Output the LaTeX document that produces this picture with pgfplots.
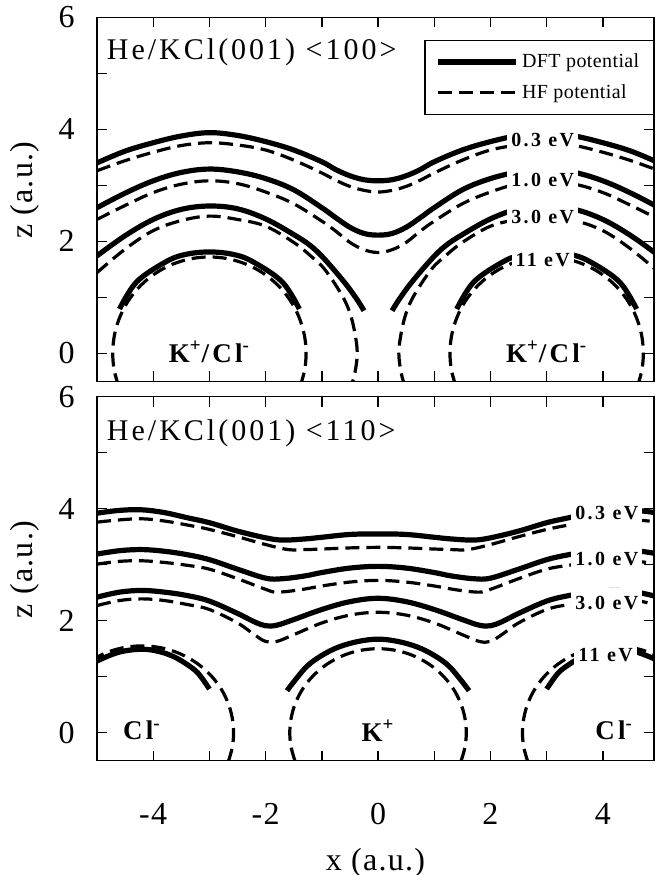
\documentclass[border=0pt]{standalone}
\usepackage{fontspec}
\setmainfont{Liberation Serif}
\newfontfamily\lsf{Liberation Serif}[LetterSpace=4]
\newfontfamily\lsfe{Liberation Serif}[LetterSpace=12]
\newfontfamily\lsft{Liberation Serif}[LetterSpace=10]
\newfontfamily\lsfl{Liberation Serif}[LetterSpace=2]
\usepackage{pgfplots}
\pgfplotsset{compat=1.18}
\tikzset{
    evlab/.style={fill=white, inner xsep=2pt, inner ysep=4.5pt, font=\lsfe\bfseries\fontsize{10}{12}\selectfont},
    ionlab/.style={anchor=base, inner sep=0pt, font=\lsfe\bfseries\fontsize{13.5}{15}\selectfont},
    titlab/.style={anchor=base west, inner sep=0pt, font=\lsft\fontsize{15}{17}\selectfont},
}
\pgfplotsset{
  dft/.style={black, line width=2.6pt, smooth, tension=0.6},
  hf/.style={black, line width=1.6pt, dash pattern=on 7pt off 3.5pt, smooth, tension=0.6},
  panel/.style={
    scale only axis, width=278.5pt, height=182pt,
    xmin=-5, xmax=4.91, ymin=-0.5, ymax=6,
    xtick={-4,-3,...,4}, ytick={0,1,...,6},
    yticklabels={0,,2,,4,,6},
    tick align=inside, major tick length=5pt,
    axis line style={line width=0.7pt},
    every tick/.append style={black, line width=0.7pt},
    ticklabel style={font=\lsf\fontsize{16}{16}\selectfont},
    yticklabel style={anchor=east, inner sep=0pt, xshift=-11pt},
    xticklabel style={anchor=north, inner sep=0pt, yshift=-21pt},
    ylabel={z (a.u.)},
    ylabel style={at={(axis description cs:-0.129,0.525)}, anchor=center, font=\lsf\fontsize{16}{16}\selectfont},
  }
}
\begin{document}
\begin{tikzpicture}
\useasboundingbox (0,0) rectangle (328pt,437.5pt);
% ---------------- top panel <100>
\begin{axis}[panel, at={(48.5pt,246.85pt)}, anchor=south west,
  xticklabels={},
  legend style={at={(rel axis cs:1,0.938)}, anchor=north east, draw=black, line width=0.7pt,
    font=\lsfl\fontsize{10}{12}\selectfont, inner xsep=5pt, inner ysep=4.5pt,
    nodes={inner sep=2pt}, row sep=3pt,
    /tikz/every even column/.append style={column sep=6pt}},
  legend cell align=left,
  legend image code/.code={\draw[#1] (0pt,0pt) -- (39pt,0pt);},
]
\addlegendimage{dft}\addlegendentry{DFT potential}
\addlegendimage{hf}\addlegendentry{HF potential}
% 0.3 eV
\addplot[dft] coordinates {(-5,3.40) (-4.5,3.61) (-4,3.76) (-3.5,3.88) (-3,3.94) (-2.5,3.89) (-2,3.78) (-1.5,3.63) (-1,3.42) (-0.75,3.28) (-0.5,3.17) (-0.25,3.10) (0,3.08) (0.25,3.10) (0.5,3.17) (0.75,3.28) (1,3.42) (1.5,3.63) (2,3.78) (2.5,3.89) (3,3.94) (3.5,3.88) (4,3.76) (4.5,3.61) (5,3.40)};
\addplot[hf] coordinates {(-5,3.26) (-4.5,3.44) (-4,3.59) (-3.5,3.71) (-3,3.76) (-2.5,3.72) (-2,3.63) (-1.5,3.45) (-1,3.22) (-0.75,3.09) (-0.5,2.98) (-0.25,2.91) (0,2.88) (0.25,2.91) (0.5,2.98) (0.75,3.09) (1,3.22) (1.5,3.45) (2,3.63) (2.5,3.72) (3,3.76) (3.5,3.71) (4,3.59) (4.5,3.44) (5,3.26)};
% 1.0 eV
\addplot[dft] coordinates {(-5,2.60) (-4.5,2.86) (-4,3.08) (-3.5,3.23) (-3,3.29) (-2.5,3.24) (-2,3.12) (-1.5,2.92) (-1,2.60) (-0.75,2.42) (-0.5,2.25) (-0.25,2.14) (0,2.11) (0.25,2.14) (0.5,2.25) (0.75,2.42) (1,2.60) (1.5,2.92) (2,3.12) (2.5,3.24) (3,3.29) (3.5,3.23) (4,3.08) (4.5,2.86) (5,2.60)};
\addplot[hf] coordinates {(-5,2.39) (-4.5,2.64) (-4,2.87) (-3.5,3.02) (-3,3.08) (-2.5,3.03) (-2,2.88) (-1.5,2.67) (-1,2.36) (-0.75,2.18) (-0.5,1.98) (-0.25,1.85) (0,1.80) (0.25,1.85) (0.5,1.98) (0.75,2.18) (1,2.36) (1.5,2.67) (2,2.88) (2.5,3.03) (3,3.08) (3.5,3.02) (4,2.87) (4.5,2.64) (5,2.39)};
% 3.0 eV
\addplot[dft] coordinates {(-5,1.74) (-4.5,2.10) (-4,2.39) (-3.5,2.57) (-3,2.63) (-2.5,2.58) (-2,2.40) (-1.5,2.12) (-1.2,1.92) (-0.95,1.68) (-0.6,1.27) (-0.38,0.97) (-0.25,0.76)};
\addplot[dft] coordinates {(0.25,0.76) (0.38,0.97) (0.6,1.27) (0.95,1.68) (1.2,1.92) (1.5,2.12) (2,2.40) (2.5,2.58) (3,2.63) (3.5,2.57) (4,2.39) (4.5,2.10) (5,1.74)};
\addplot[hf] coordinates {(-5,1.44) (-4.5,1.86) (-4,2.19) (-3.5,2.37) (-3,2.45) (-2.5,2.39) (-2,2.27) (-1.5,1.98) (-1.2,1.74) (-0.95,1.50) (-0.65,1.05) (-0.5,0.72) (-0.41,0.35) (-0.37,0) (-0.41,-0.34) (-0.48,-0.6)};
\addplot[hf] coordinates {(0.48,-0.6) (0.41,-0.34) (0.37,0) (0.41,0.35) (0.5,0.72) (0.65,1.05) (0.95,1.50) (1.2,1.74) (1.5,1.98) (2,2.27) (2.5,2.39) (3,2.45) (3.5,2.37) (4,2.19) (4.5,1.86) (5,1.44)};
% 11 eV
\addplot[dft] coordinates {(-4.6,0.79) (-4.3,1.27) (-3.8,1.62) (-3.45,1.76) (-3,1.81) (-2.55,1.76) (-2.2,1.62) (-1.7,1.27) (-1.4,0.79)};
\addplot[dft] coordinates {(1.4,0.79) (1.7,1.27) (2.2,1.62) (2.55,1.76) (3,1.81) (3.45,1.76) (3.8,1.62) (4.3,1.27) (4.6,0.79)};
\addplot[hf] coordinates {(-1.384,-0.588) (-1.306,-0.299) (-1.28,0) (-1.306,0.299) (-1.384,0.588) (-1.510,0.860) (-1.682,1.106) (-1.894,1.318) (-2.140,1.490) (-2.412,1.616) (-2.701,1.694) (-3,1.72) (-3.299,1.694) (-3.588,1.616) (-3.860,1.490) (-4.106,1.318) (-4.318,1.106) (-4.490,0.860) (-4.616,0.588) (-4.694,0.299) (-4.72,0) (-4.694,-0.299) (-4.616,-0.588)};
\addplot[hf] coordinates {(1.384,-0.588) (1.306,-0.299) (1.28,0) (1.306,0.299) (1.384,0.588) (1.510,0.860) (1.682,1.106) (1.894,1.318) (2.140,1.490) (2.412,1.616) (2.701,1.694) (3,1.72) (3.299,1.694) (3.588,1.616) (3.860,1.490) (4.106,1.318) (4.318,1.106) (4.490,0.860) (4.616,0.588) (4.694,0.299) (4.72,0) (4.694,-0.299) (4.616,-0.588)};
\node[evlab] at (axis cs:2.93,3.80) {0.3 eV};
\node[evlab] at (axis cs:2.93,3.10) {1.0 eV};
\node[evlab] at (axis cs:2.93,2.43) {3.0 eV};
\node[evlab] at (axis cs:2.93,1.66) {11 eV};
\node[ionlab] at (axis cs:-3,-0.16) {K\textsuperscript{+}/Cl\textsuperscript{-}};
\node[ionlab] at (axis cs:3,-0.16) {K\textsuperscript{+}/Cl\textsuperscript{-}};
\node[titlab] at (axis cs:-4.83,5.24) {He/KCl(001) <100>};
\end{axis}
% ---------------- bottom panel <110>
\begin{axis}[panel, at={(48.5pt,57.15pt)}, anchor=south west,
  xticklabels={-4,,-2,,0,,2,,4},
  xlabel={x (a.u.)},
  xlabel style={at={(axis description cs:0.5,-0.28)}, anchor=center, font=\lsf\fontsize{16}{16}\selectfont},
]
% 0.3 eV
\addplot[dft] coordinates {(-5,3.92) (-4.6,3.97) (-4.2,3.98) (-3.8,3.93) (-3.4,3.84) (-3,3.75) (-2.5,3.60) (-2,3.48) (-1.7,3.44) (-1.3,3.46) (-1,3.49) (-0.5,3.54) (0,3.55) (0.5,3.54) (1,3.49) (1.3,3.46) (1.7,3.44) (2,3.48) (2.5,3.60) (3,3.75) (3.4,3.84) (3.8,3.93) (4.2,3.98) (4.6,3.97) (5,3.92)};
\addplot[hf] coordinates {(-5,3.76) (-4.6,3.80) (-4.2,3.82) (-3.8,3.78) (-3.4,3.71) (-3,3.63) (-2.5,3.50) (-2,3.36) (-1.6,3.27) (-1.3,3.27) (-1,3.28) (-0.5,3.30) (0,3.31) (0.5,3.30) (1,3.28) (1.3,3.27) (1.6,3.27) (2,3.36) (2.5,3.50) (3,3.63) (3.4,3.71) (3.8,3.78) (4.2,3.82) (4.6,3.80) (5,3.76)};
% 1.0 eV
\addplot[dft] coordinates {(-5,3.19) (-4.6,3.25) (-4.2,3.27) (-3.8,3.24) (-3.4,3.18) (-3,3.09) (-2.5,2.92) (-2,2.76) (-1.7,2.75) (-1.3,2.80) (-1,2.86) (-0.5,2.94) (0,2.97) (0.5,2.94) (1,2.86) (1.3,2.80) (1.7,2.75) (2,2.76) (2.5,2.92) (3,3.09) (3.4,3.18) (3.8,3.24) (4.2,3.27) (4.6,3.25) (5,3.19)};
\addplot[hf] coordinates {(-5,3.01) (-4.6,3.06) (-4.2,3.07) (-3.8,3.04) (-3.4,2.99) (-3,2.92) (-2.5,2.75) (-2,2.56) (-1.8,2.51) (-1.4,2.55) (-1,2.62) (-0.5,2.69) (0,2.72) (0.5,2.69) (1,2.62) (1.4,2.55) (1.8,2.51) (2,2.56) (2.5,2.75) (3,2.92) (3.4,2.99) (3.8,3.04) (4.2,3.07) (4.6,3.06) (5,3.01)};
% 3.0 eV
\addplot[dft] coordinates {(-5,2.42) (-4.6,2.51) (-4.2,2.54) (-3.8,2.51) (-3.4,2.45) (-3,2.35) (-2.5,2.13) (-2.2,1.98) (-2,1.91) (-1.8,1.92) (-1.5,2.02) (-1,2.20) (-0.5,2.34) (0,2.40) (0.5,2.34) (1,2.20) (1.5,2.02) (1.8,1.92) (2,1.91) (2.2,1.98) (2.5,2.13) (3,2.35) (3.4,2.45) (3.8,2.51) (4.2,2.54) (4.6,2.51) (5,2.42)};
\addplot[hf] coordinates {(-5,2.27) (-4.6,2.36) (-4.2,2.39) (-3.8,2.36) (-3.4,2.29) (-3,2.20) (-2.5,1.96) (-2.2,1.75) (-2,1.63) (-1.8,1.63) (-1.5,1.75) (-1,1.96) (-0.5,2.10) (0,2.15) (0.5,2.10) (1,1.96) (1.5,1.75) (1.8,1.63) (2,1.63) (2.2,1.75) (2.5,1.96) (3,2.20) (3.4,2.29) (3.8,2.36) (4.2,2.39) (4.6,2.36) (5,2.27)};
% 11 eV
\addplot[dft] coordinates {(-5.2,1.16) (-5,1.28) (-4.6,1.44) (-4.2,1.49) (-3.9,1.45) (-3.64,1.36) (-3.4,1.22) (-3.2,1.06) (-3,0.78)};
\addplot[dft] coordinates {(3,0.78) (3.2,1.06) (3.4,1.22) (3.64,1.36) (3.9,1.45) (4.2,1.49) (4.6,1.44) (5,1.28)};
\addplot[dft] coordinates {(-1.62,0.75) (-1.45,0.97) (-1.25,1.20) (-1,1.38) (-0.7,1.53) (-0.35,1.63) (0,1.67) (0.35,1.63) (0.7,1.53) (1,1.38) (1.25,1.20) (1.45,0.97) (1.62,0.75)};
\addplot[hf] coordinates {(1.475,-0.513) (1.546,-0.260) (1.57,0) (1.546,0.260) (1.475,0.513) (1.360,0.750) (1.203,0.964) (1.009,1.149) (0.785,1.299) (0.537,1.410) (0.273,1.477) (0,1.50) (-0.273,1.477) (-0.537,1.410) (-0.785,1.299) (-1.009,1.149) (-1.203,0.964) (-1.360,0.750) (-1.475,0.513) (-1.546,0.260) (-1.57,0) (-1.546,-0.260) (-1.475,-0.513)};
\addplot[hf] coordinates {(-2.668,-0.530) (-2.595,-0.269) (-2.57,0) (-2.595,0.269) (-2.668,0.530) (-2.788,0.775) (-2.951,0.996) (-3.152,1.187) (-3.385,1.342) (-3.643,1.457) (-3.917,1.526) (-4.2,1.55) (-4.483,1.526) (-4.757,1.457) (-5.015,1.342) (-5.248,1.187)};
\addplot[hf] coordinates {(2.668,-0.530) (2.595,-0.269) (2.57,0) (2.595,0.269) (2.668,0.530) (2.788,0.775) (2.951,0.996) (3.152,1.187) (3.385,1.342) (3.643,1.457) (3.917,1.526) (4.2,1.55) (4.483,1.526) (4.757,1.457) (5.015,1.342) (5.248,1.187)};
\node[evlab] at (axis cs:4.07,3.92) {0.3 eV};
\node[evlab] at (axis cs:4.07,3.10) {1.0 eV};
\node[evlab] at (axis cs:4.07,2.31) {3.0 eV};
\node[evlab] at (axis cs:4.05,1.38) {11 eV};
\node[ionlab] at (axis cs:-4.2,-0.13) {Cl\textsuperscript{-}};
\node[ionlab] at (axis cs:0,-0.15) {K\textsuperscript{+}};
\node[ionlab] at (axis cs:4.2,-0.13) {Cl\textsuperscript{-}};
\node[titlab] at (axis cs:-4.83,5.22) {He/KCl(001) <110>};
\end{axis}
\end{tikzpicture}
\end{document}
